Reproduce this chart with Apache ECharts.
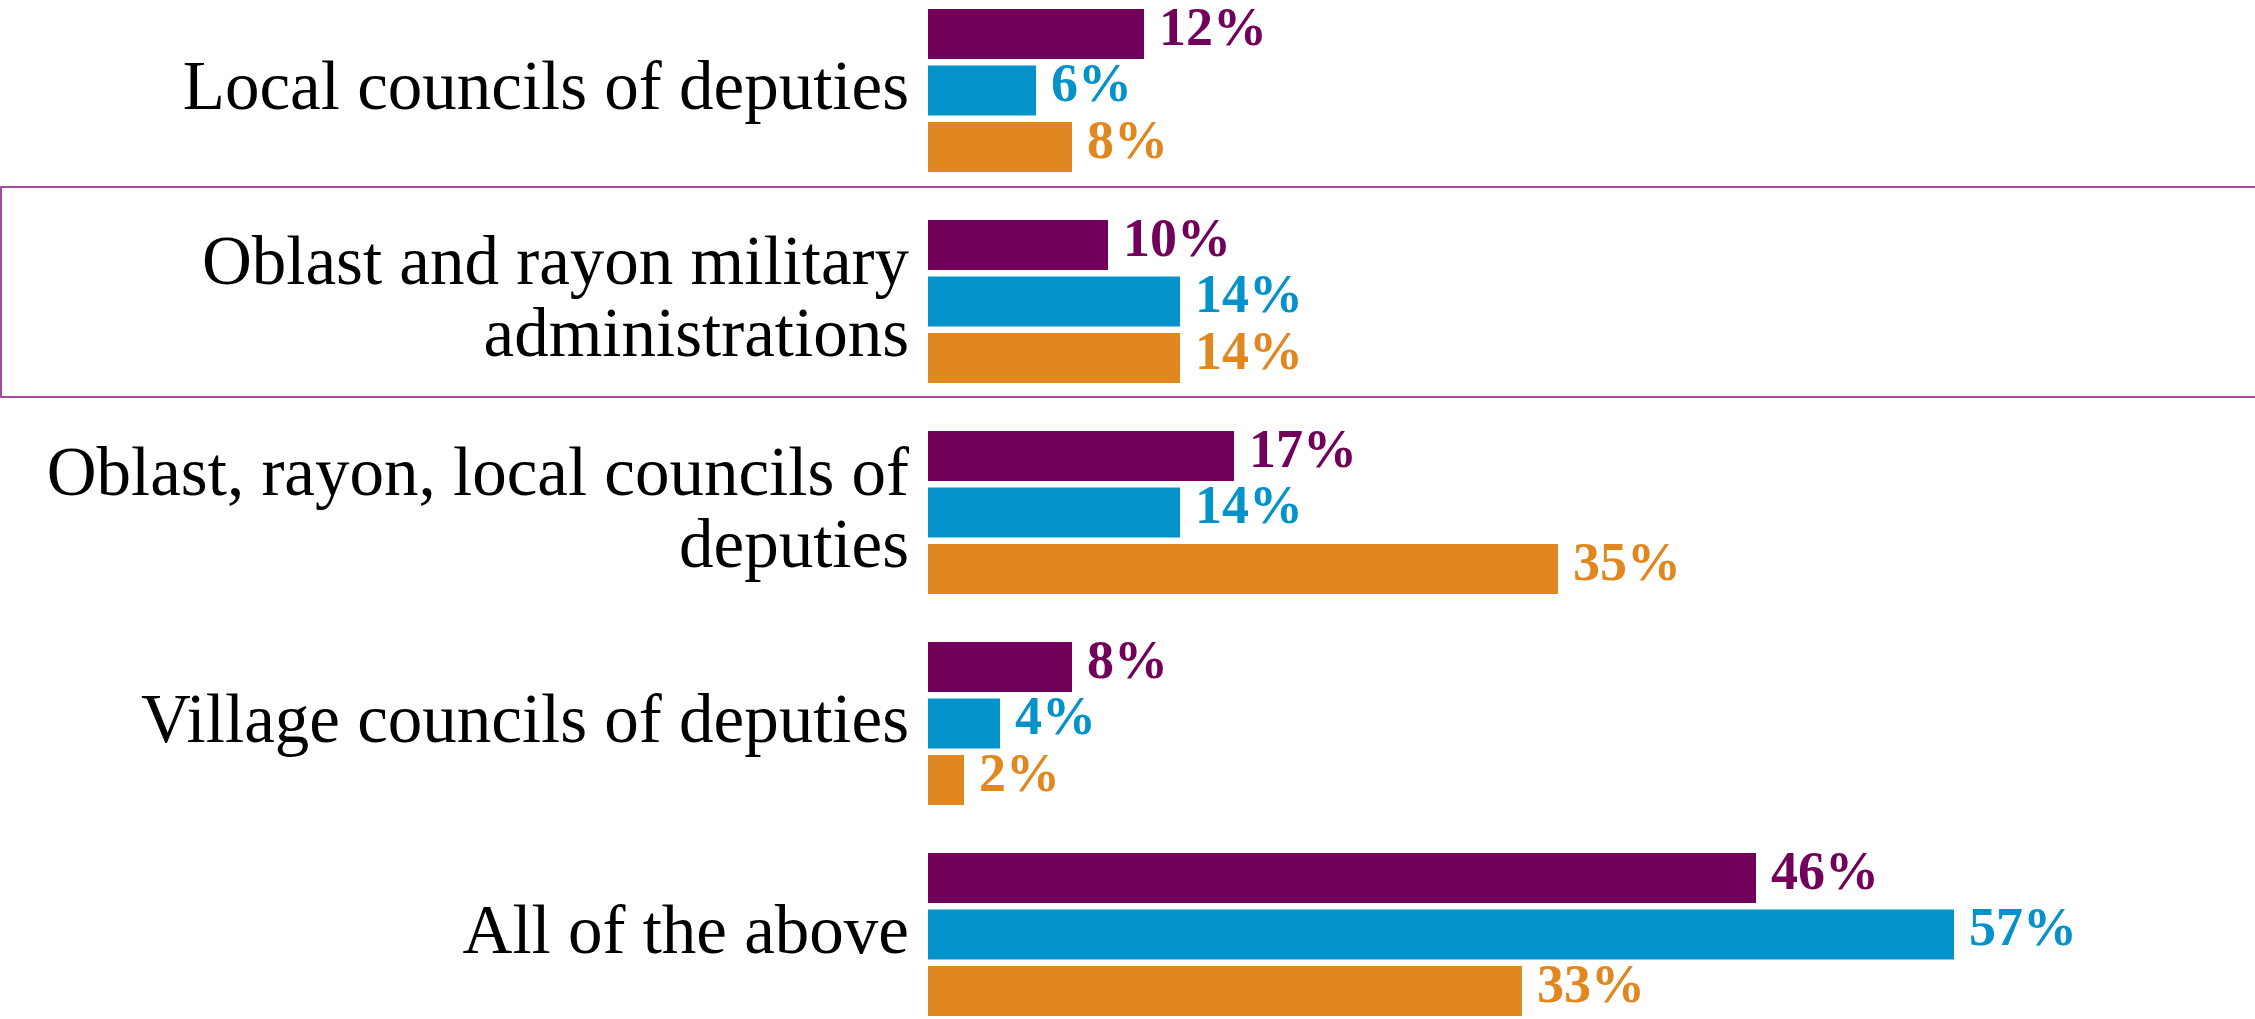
<!DOCTYPE html>
<html>
<head>
<meta charset="utf-8">
<script src="https://cdn.jsdelivr.net/npm/echarts@6/dist/echarts.min.js"></script>
<style>
html,body{margin:0;padding:0;background:#fff;overflow:hidden;width:2255px;height:1019px;position:relative;}
#chart{position:absolute;left:0;top:-15px;width:2255px;height:1055px;}
</style>
</head>
<body>
<div id="chart"></div>
<script>
var categories = [
  "Local councils of deputies",
  "Oblast and rayon military\nadministrations",
  "Oblast, rayon, local councils of\ndeputies",
  "Village councils of deputies",
  "All of the above"
];
var seriesNames = ["Series 1", "Series 2", "Series 3"];
var series1 = [12, 10, 17, 8, 46];
var series2 = [6, 14, 14, 4, 57];
var series3 = [8, 14, 35, 2, 33];
var colors = ["#72005a", "#0392c9", "#e0871f"];

var chart = echarts.init(document.getElementById('chart'));
var values = [series1, series2, series3];
var series = values.map(function (v, i) {
  return {
    name: seriesNames[i],
    type: 'bar',
    data: v,
    barWidth: 50,
    barGap: '13%',
    itemStyle: { color: colors[i] },
    label: {
      show: true,
      position: 'right',
      distance: 15,
      offset: [0, -3],
      formatter: '{c}%',
      color: colors[i],
      fontFamily: 'Liberation Serif',
      fontWeight: 'bold',
      fontSize: 54
    }
  };
});

chart.setOption({
  backgroundColor: '#ffffff',
  animation: false,
  grid: { left: 928, width: 1260, top: 0, bottom: 0, containLabel: false },
  xAxis: {
    type: 'value', min: 0, max: 70,
    show: false, splitLine: { show: false }
  },
  yAxis: {
    type: 'category',
    data: categories,
    inverse: true,
    axisLine: { show: false },
    axisTick: { show: false },
    splitLine: { show: false },
    axisLabel: {
      margin: 19,
      color: '#000000',
      fontFamily: 'Liberation Serif',
      fontSize: 69,
      lineHeight: 72,
      align: 'right'
    }
  },
  graphic: [{
    type: 'rect',
    z: -10,
    shape: { x: 1, y: 202, width: 2300, height: 210 },
    style: { fill: 'none', stroke: '#a0509a', lineWidth: 2 }
  }],
  series: series
});
</script>
</body>
</html>
